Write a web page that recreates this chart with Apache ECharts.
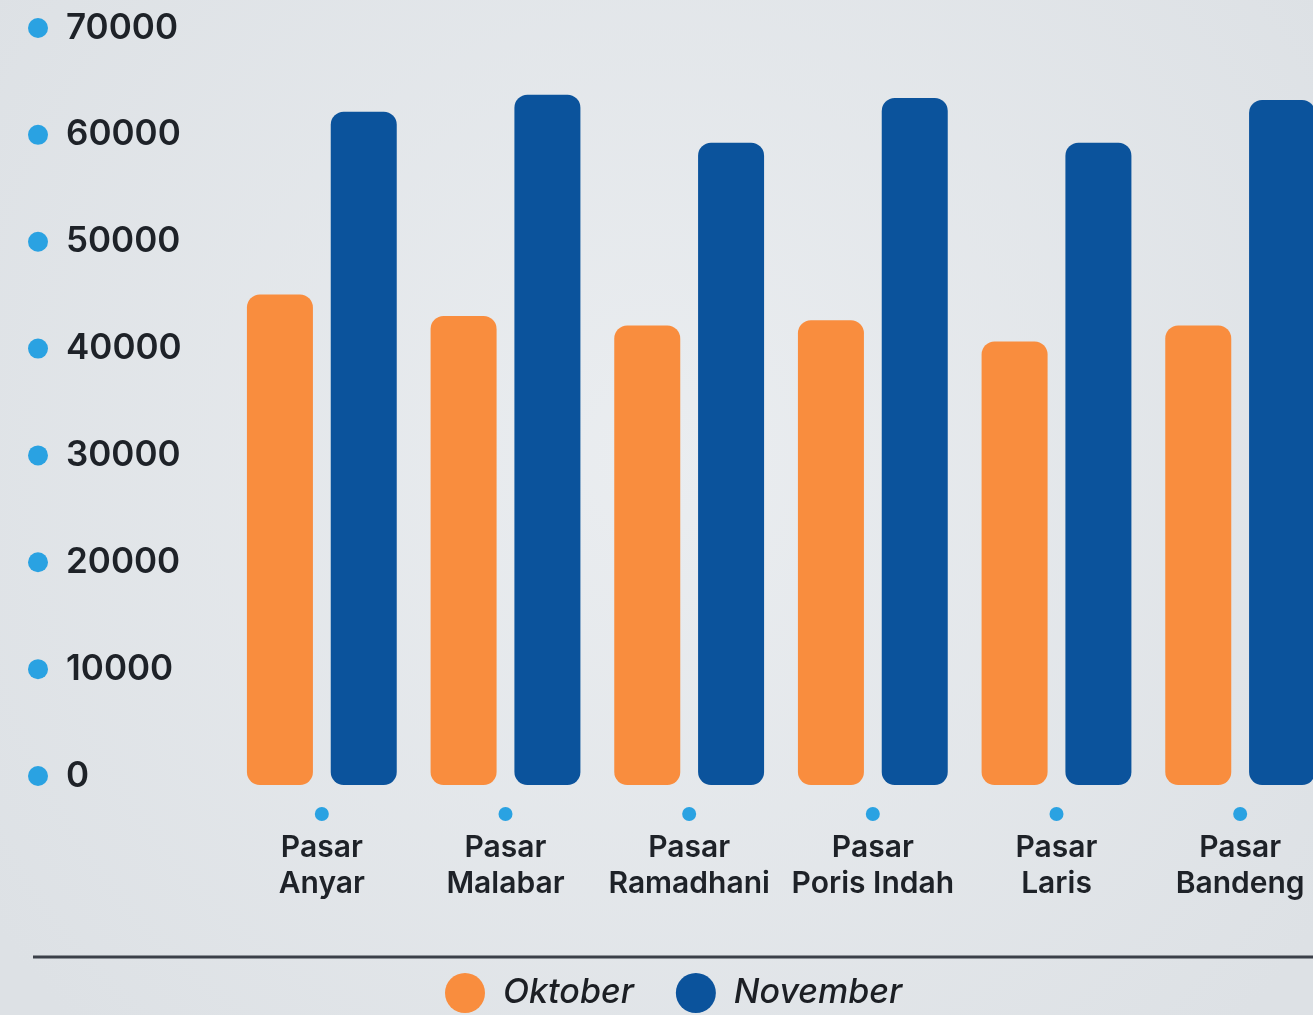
<!DOCTYPE html>
<html>
<head>
<meta charset="utf-8">
<script src="https://cdn.jsdelivr.net/npm/echarts@6/dist/echarts.min.js"></script>
<style>
html,body{margin:0;padding:0;background:#e4e7eb;}
#chart{width:1313px;height:1015px;}
</style>
</head>
<body>
<div id="chart"></div>
<script>
const categories = ['Pasar\nAnyar', 'Pasar\nMalabar', 'Pasar\nRamadhani', 'Pasar\nPoris Indah', 'Pasar\nLaris', 'Pasar\nBandeng'];
const oktober = [45900, 43900, 43000, 43500, 41500, 43000];
const november = [63000, 64600, 60100, 64300, 60100, 64100];
const seriesNames = ['Oktober', 'November'];
const yTicks = { min: 0, max: 70000, interval: 10000 };

const FONT = 'Inter';
const chart = echarts.init(document.getElementById('chart'), null, { renderer: 'canvas' });
chart.setOption({
  backgroundColor: {
    type: 'radial', x: 0.5, y: 0.45, r: 0.8,
    colorStops: [{ offset: 0, color: '#eaedf0' }, { offset: 1, color: '#dde1e5' }]
  },
  textStyle: { fontFamily: FONT },
  grid: { left: 230, width: 1102, top: 37, bottom: 230, outerBoundsMode: 'none', containLabel: false },
  legend: {
    left: 440, top: 968,
    icon: 'circle', itemWidth: 40, itemHeight: 40, itemGap: 42,
    textStyle: { fontFamily: FONT, fontSize: 34, fontStyle: 'italic', fontWeight: 500, color: '#1c1f24', padding: [0, 0, 0, 13] },
    data: seriesNames
  },
  xAxis: {
    type: 'category',
    data: categories,
    axisLine: { show: false }, axisTick: { show: false },
    axisLabel: {
      interval: 0, margin: 13,
      formatter: function (v) {
        const parts = v.split('\n');
        return '{dot|}\n{t|' + parts[0] + '}\n{t|' + parts[1] + '}';
      },
      rich: {
        dot: { width: 14, height: 14, borderRadius: 7, backgroundColor: '#2aa2e2', lineHeight: 32 },
        t: { fontFamily: FONT, fontSize: 30, fontWeight: 600, color: '#1e2228', lineHeight: 36, align: 'center' }
      }
    }
  },
  yAxis: {
    type: 'value',
    min: yTicks.min, max: yTicks.max, interval: yTicks.interval,
    splitLine: { show: false }, axisLine: { show: false }, axisTick: { show: false },
    axisLabel: {
      align: 'left', margin: 202,
      padding: [0, 0, 18, 0],
      formatter: function (v) { return '{dot|}{v|' + v + '}'; },
      rich: {
        dot: { width: 20, height: 20, borderRadius: 10, backgroundColor: '#2aa2e2' },
        v: { fontFamily: FONT, fontSize: 35, fontWeight: 600, color: '#1e2228', padding: [0, 0, 0, 18] }
      }
    }
  },
  series: [
    {
      name: seriesNames[0], type: 'bar', data: oktober,
      barWidth: 66, barGap: '27%',
      itemStyle: { color: '#f98d3e', borderRadius: 13 }
    },
    {
      name: seriesNames[1], type: 'bar', data: november,
      barWidth: 66,
      itemStyle: { color: '#0b539c', borderRadius: 13 }
    }
  ],
  graphic: [{
    type: 'line', shape: { x1: 33, y1: 957, x2: 1313, y2: 957 },
    style: { stroke: '#3b4049', lineWidth: 3 }
  }]
});
</script>
</body>
</html>
